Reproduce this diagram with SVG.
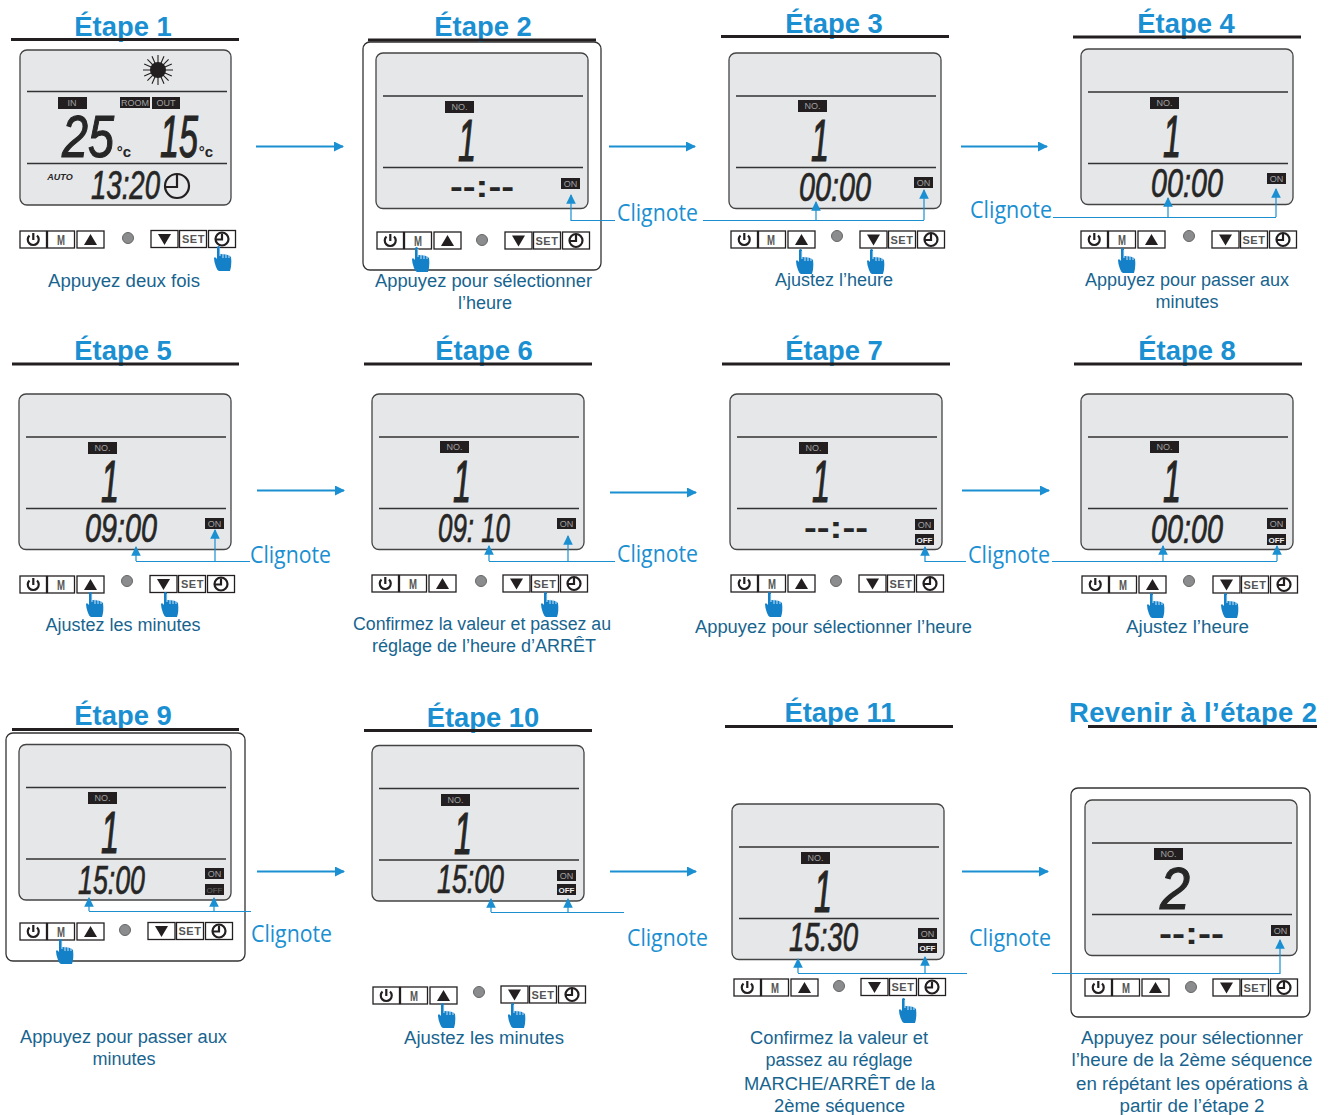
<svg xmlns="http://www.w3.org/2000/svg" width="1329" height="1115" viewBox="0 0 1329 1115">
<style>
.title{font:bold 27.400px "Liberation Sans",Arial,sans-serif;fill:#1a8fd1;text-anchor:middle}
.rule{stroke:#231f20;stroke-width:3}
.cap{font:18px "Liberation Sans",Arial,sans-serif;fill:#17648f;text-anchor:middle}
.cl{font:23px "Open Sans","Liberation Sans",sans-serif;fill:#1a8fd1}
.frame{fill:#fff;stroke:#333;stroke-width:1.3}
.lcd{fill:#e6e7e8;stroke:#444;stroke-width:1.3}
.ln{stroke:#333;stroke-width:1.5}
.tag{fill:#231f20}
.tt{font:9px "Liberation Sans",sans-serif;fill:#a0a0a0;text-anchor:middle}
.to{font:bold 8px "Liberation Sans",sans-serif;fill:#eee;text-anchor:middle}
.dg{font:italic 40px "Liberation Sans",sans-serif;fill:#262626;stroke:#262626;stroke-width:.7}
.db{font:italic 60px "Liberation Sans",sans-serif;fill:#262626;stroke:#262626;stroke-width:1.2}
.ds{font:bold 32px "Liberation Sans",sans-serif;fill:#262626;text-anchor:middle}
.bx{fill:#fff;stroke:#231f20;stroke-width:1.3}
.led{fill:#8a8c8e;stroke:#666;stroke-width:1}
.ic{fill:none;stroke:#231f20;stroke-width:2.2}
.m{font:bold 14px "Liberation Sans",sans-serif;fill:#555;text-anchor:middle}
.set{font:bold 11px "Liberation Sans",sans-serif;fill:#555;text-anchor:middle;letter-spacing:.6px}
.fl{fill:none;stroke:#1a8fd1;stroke-width:2}
.cn{fill:none;stroke:#1a8fd1;stroke-width:1.2}
.u{font:bold 15px "Liberation Sans",sans-serif;fill:#262626;text-anchor:middle}
</style>
<defs>
<marker id="a" viewBox="0 0 10 10" refX="9" refY="5" markerWidth="5" markerHeight="5" orient="auto"><path d="M0 0L10 5L0 10z" fill="#1a8fd1"/></marker>
<marker id="u" viewBox="0 0 10 10" refX="9" refY="5" markerWidth="8" markerHeight="8" orient="auto"><path d="M0 0L10 5L0 10z" fill="#1a8fd1"/></marker>
<g id="lcd"><rect class="lcd" width="212" height="155.500" rx="7"/><path class="ln" d="M7 43H207M7 114.500H207" fill="none"/></g>
<g id="btnL"><rect class="bx" width="26.500" height="17"/><rect class="bx" x="27.500" width="27" height="17"/><rect class="bx" x="57" width="27" height="17"/>
<path class="ic" d="M9.500 4.500A5.500 5.500 0 1 0 17 4.500M13.300 2V9"/><path d="M70.500 3L77 14H64z" fill="#231f20"/></g>
<g id="btnR"><rect class="bx" width="27" height="17"/><rect class="bx" x="28.500" width="27" height="17"/><rect class="bx" x="57.500" width="27" height="17"/>
<path d="M13.500 14.500L7 3.500H20z" fill="#231f20"/><circle class="ic" cx="71" cy="8.500" r="6.500"/><path class="ic" d="M71 3V9H65"/></g>
<g id="hand"><path d="M3 22Q1 17 1 13Q2 11 4 14V2Q5.500 0 7 2V9Q16 9 18 12Q19 20 17 26H6Q4 25 3 22z" fill="#1480c8"/><path d="M7 3V11M10 8V13M13 8.500V13M16 10V13" stroke="#dff0fb" stroke-width=".9" fill="none"/></g>
<g id="sun"><circle r="8" fill="#231f20"/><path d="M0-15V15M-15 0H15M-10.600-10.600L10.600 10.600M-10.600 10.600L10.600-10.600M-6-13.800L6 13.800M6-13.800L-6 13.800M-13.800-6L13.800 6M-13.800 6L13.800-6" stroke="#231f20" stroke-width="1.100"/></g>
</defs>

<g id="connectors">
<path class="fl" marker-end="url(#a)" d="M256 146.500H343"/><path class="fl" marker-end="url(#a)" d="M609 146.500H695"/><path class="fl" marker-end="url(#a)" d="M961 146.500H1047"/>
<path class="fl" marker-end="url(#a)" d="M257 490.500H344"/><path class="fl" marker-end="url(#a)" d="M610 492.500H696"/><path class="fl" marker-end="url(#a)" d="M962 490.500H1049"/>
<path class="fl" marker-end="url(#a)" d="M257 871.500H344"/><path class="fl" marker-end="url(#a)" d="M610 871.500H696"/><path class="fl" marker-end="url(#a)" d="M962 871.500H1048"/>
</g>

<g id="etape1">
<text class="title" x="123" y="36">Étape 1</text><path class="rule" d="M11 39.500H239"/>
<rect class="lcd" x="20" y="50" width="211" height="155" rx="7"/><path class="ln" d="M27 91.500H227M27 163.500H227"/>
<use href="#sun" x="158" y="70"/>
<rect class="tag" x="58" y="97" width="29" height="12"/><text class="tt" x="72" y="106">IN</text>
<rect class="tag" x="120" y="97" width="30" height="11"/><text class="tt" x="135" y="106">ROOM</text>
<rect class="tag" x="152" y="97" width="28" height="12"/><text class="tt" x="166" y="106">OUT</text>
<text class="db" x="62" y="157" textLength="52" lengthAdjust="spacingAndGlyphs">25</text>
<text class="db" x="160" y="157" textLength="38" lengthAdjust="spacingAndGlyphs">15</text>
<text class="u" x="124" y="157">°c</text>
<text class="u" x="206" y="157">°c</text>
<text x="60" y="180" style="font:bold italic 9px 'Liberation Sans',sans-serif;fill:#262626;text-anchor:middle">AUTO</text>
<text class="dg" x="91" y="199" textLength="69" lengthAdjust="spacingAndGlyphs">13:20</text>
<circle class="ic" cx="177" cy="186" r="12"/><path class="ic" d="M177 175V187H166"/>
<use href="#btnL" x="20" y="231"/><circle class="led" cx="128" cy="238" r="5.500"/><use href="#btnR" x="151" y="230.500"/>
<text class="m" x="61" y="245" textLength="8" lengthAdjust="spacingAndGlyphs">M</text><text class="set" x="193.500" y="243">SET</text>
<use href="#hand" x="213" y="245"/>
<text class="cap" x="124" y="287" textLength="152" lengthAdjust="spacingAndGlyphs">Appuyez deux fois</text>
</g>

<g id="etape2">
<rect class="frame" x="363" y="42" width="238" height="228" rx="7"/>
<text class="title" x="483" y="36">Étape 2</text><path class="rule" d="M368 40H596"/>
<use href="#lcd" x="376" y="53"/>
<rect class="tag" x="445" y="101" width="29" height="12"/><text class="tt" x="459.500" y="110">NO.</text>
<text class="db" x="458" y="161" textLength="18" lengthAdjust="spacingAndGlyphs">1</text>
<text class="ds" x="482" y="197" textLength="64" lengthAdjust="spacingAndGlyphs">--:--</text>
<rect class="tag" x="561" y="178" width="19" height="11"/><text class="tt" x="570.500" y="187">ON</text>
<use href="#btnL" x="377" y="232"/><circle class="led" cx="482" cy="240" r="5.500"/><use href="#btnR" x="505" y="232"/>
<text class="m" x="418" y="246" textLength="8" lengthAdjust="spacingAndGlyphs">M</text><text class="set" x="547" y="245">SET</text>
<use href="#hand" x="411" y="246"/>
<path class="cn" marker-end="url(#u)" d="M615 220.500H571V195"/>
<text class="cl" x="617" y="221" textLength="81" lengthAdjust="spacingAndGlyphs">Clignote</text>
<text class="cap" x="483.500" y="287" textLength="217" lengthAdjust="spacingAndGlyphs">Appuyez pour sélectionner</text><text class="cap" x="485" y="309">l’heure</text>
</g>

<g id="etape3">
<text class="title" x="834" y="33">Étape 3</text><path class="rule" d="M721 36.500H949"/>
<use href="#lcd" x="729" y="53"/>
<rect class="tag" x="798" y="100" width="29" height="12"/><text class="tt" x="812.500" y="109">NO.</text>
<text class="db" x="811" y="161" textLength="18" lengthAdjust="spacingAndGlyphs">1</text>
<text class="dg" x="799" y="201" textLength="72" lengthAdjust="spacingAndGlyphs">00:00</text>
<rect class="tag" x="914" y="177" width="19" height="11"/><text class="tt" x="923.500" y="186">ON</text>
<use href="#btnL" x="731" y="231"/><circle class="led" cx="837" cy="236" r="5.500"/><use href="#btnR" x="860" y="231"/>
<text class="m" x="771" y="245" textLength="8" lengthAdjust="spacingAndGlyphs">M</text><text class="set" x="902" y="244">SET</text>
<use href="#hand" x="795" y="248"/><use href="#hand" x="866" y="248"/>
<path class="cn" d="M703 220.500H924"/><path class="cn" marker-end="url(#u)" d="M816 220V202"/><path class="cn" marker-end="url(#u)" d="M924 220V190"/>
<text class="cap" x="834" y="286">Ajustez l’heure</text>
</g>

<g id="etape4">
<text class="title" x="1186" y="33">Étape 4</text><path class="rule" d="M1073 37H1301"/>
<use href="#lcd" x="1081" y="49"/>
<rect class="tag" x="1150" y="97" width="29" height="12"/><text class="tt" x="1164.500" y="106">NO.</text>
<text class="db" x="1163" y="157" textLength="18" lengthAdjust="spacingAndGlyphs">1</text>
<text class="dg" x="1151" y="197" textLength="72" lengthAdjust="spacingAndGlyphs">00:00</text>
<rect class="tag" x="1267" y="173" width="19" height="11"/><text class="tt" x="1276.500" y="182">ON</text>
<use href="#btnL" x="1081" y="231"/><circle class="led" cx="1189" cy="236" r="5.500"/><use href="#btnR" x="1212" y="231"/>
<text class="m" x="1122" y="245" textLength="8" lengthAdjust="spacingAndGlyphs">M</text><text class="set" x="1254" y="244">SET</text>
<use href="#hand" x="1117" y="247"/>
<text class="cl" x="970" y="218" textLength="82" lengthAdjust="spacingAndGlyphs">Clignote</text>
<path class="cn" d="M1053 217.500H1276"/><path class="cn" marker-end="url(#u)" d="M1168 217V198"/><path class="cn" marker-end="url(#u)" d="M1276 217V189"/>
<text class="cap" x="1187" y="286">Appuyez pour passer aux</text><text class="cap" x="1187" y="308">minutes</text>
</g>

<g id="etape5">
<text class="title" x="123" y="360">Étape 5</text><path class="rule" d="M12 364H239"/>
<use href="#lcd" x="19" y="394"/>
<rect class="tag" x="88" y="442" width="29" height="12"/><text class="tt" x="102.500" y="451">NO.</text>
<text class="db" x="101" y="502" textLength="18" lengthAdjust="spacingAndGlyphs">1</text>
<text class="dg" x="85" y="542" textLength="72" lengthAdjust="spacingAndGlyphs">09:00</text>
<rect class="tag" x="205" y="518" width="19" height="11"/><text class="tt" x="214.500" y="527">ON</text>
<use href="#btnL" x="20" y="576"/><circle class="led" cx="127" cy="581" r="5.500"/><use href="#btnR" x="150" y="575.500"/>
<text class="m" x="61" y="590" textLength="8" lengthAdjust="spacingAndGlyphs">M</text><text class="set" x="192.500" y="588">SET</text>
<use href="#hand" x="85" y="591"/><use href="#hand" x="160" y="591"/>
<path class="cn" d="M136 561.500H250"/><path class="cn" marker-end="url(#u)" d="M136 561V547"/><path class="cn" marker-end="url(#u)" d="M215 561V530"/>
<text class="cl" x="250" y="563" textLength="81" lengthAdjust="spacingAndGlyphs">Clignote</text>
<text class="cap" x="123" y="631">Ajustez les minutes</text>
</g>

<g id="etape6">
<text class="title" x="484" y="360">Étape 6</text><path class="rule" d="M364 364H592"/>
<use href="#lcd" x="372" y="394"/>
<rect class="tag" x="440" y="441" width="29" height="12"/><text class="tt" x="454.500" y="450">NO.</text>
<text class="db" x="453" y="502" textLength="18" lengthAdjust="spacingAndGlyphs">1</text>
<text class="dg" x="438" y="542" textLength="72" lengthAdjust="spacingAndGlyphs">09: 10</text>
<rect class="tag" x="557" y="518" width="19" height="11"/><text class="tt" x="566.500" y="527">ON</text>
<use href="#btnL" x="372" y="575"/><circle class="led" cx="481" cy="581" r="5.500"/><use href="#btnR" x="503" y="575"/>
<text class="m" x="413" y="589" textLength="8" lengthAdjust="spacingAndGlyphs">M</text><text class="set" x="545" y="588">SET</text>
<use href="#hand" x="540" y="591"/>
<path class="cn" d="M489 561.500H615"/><path class="cn" marker-end="url(#u)" d="M489 561V546"/><path class="cn" marker-end="url(#u)" d="M568 561V536"/>
<text class="cl" x="617" y="562" textLength="81" lengthAdjust="spacingAndGlyphs">Clignote</text>
<text class="cap" x="482" y="630" textLength="258" lengthAdjust="spacingAndGlyphs">Confirmez la valeur et passez au</text><text class="cap" x="484" y="652">réglage de l’heure d’ARRÊT</text>
</g>

<g id="etape7">
<text class="title" x="834" y="360">Étape 7</text><path class="rule" d="M722 364H950"/>
<use href="#lcd" x="730" y="394"/>
<rect class="tag" x="799" y="442" width="29" height="12"/><text class="tt" x="813.500" y="451">NO.</text>
<text class="db" x="812" y="502" textLength="18" lengthAdjust="spacingAndGlyphs">1</text>
<text class="ds" x="836" y="538" textLength="64" lengthAdjust="spacingAndGlyphs">--:--</text>
<rect class="tag" x="915" y="519" width="19" height="11"/><text class="tt" x="924.500" y="528">ON</text>
<rect class="tag" x="915" y="534" width="19" height="11"/><text class="to" x="924.500" y="542.500">OFF</text>
<use href="#btnL" x="731" y="575"/><circle class="led" cx="836" cy="581" r="5.500"/><use href="#btnR" x="859" y="575"/>
<text class="m" x="772" y="589" textLength="8" lengthAdjust="spacingAndGlyphs">M</text><text class="set" x="901" y="588">SET</text>
<use href="#hand" x="764" y="591"/>
<path class="cn" marker-end="url(#u)" d="M966 561.500H925V547"/>
<text class="cl" x="968" y="563" textLength="82" lengthAdjust="spacingAndGlyphs">Clignote</text>
<text class="cap" x="833.500" y="633" textLength="277" lengthAdjust="spacingAndGlyphs">Appuyez pour sélectionner l’heure</text>
</g>

<g id="etape8">
<text class="title" x="1187" y="360">Étape 8</text><path class="rule" d="M1074 364H1302"/>
<use href="#lcd" x="1081" y="394"/>
<rect class="tag" x="1150" y="441" width="29" height="12"/><text class="tt" x="1164.500" y="450">NO.</text>
<text class="db" x="1163" y="502" textLength="18" lengthAdjust="spacingAndGlyphs">1</text>
<text class="dg" x="1151" y="543" textLength="72" lengthAdjust="spacingAndGlyphs">00:00</text>
<rect class="tag" x="1267" y="518" width="19" height="11"/><text class="tt" x="1276.500" y="527">ON</text>
<rect class="tag" x="1267" y="534" width="19" height="11"/><text class="to" x="1276.500" y="542.500">OFF</text>
<use href="#btnL" x="1082" y="576"/><circle class="led" cx="1189" cy="581" r="5.500"/><use href="#btnR" x="1213" y="576"/>
<text class="m" x="1123" y="590" textLength="8" lengthAdjust="spacingAndGlyphs">M</text><text class="set" x="1255" y="589">SET</text>
<use href="#hand" x="1146" y="592"/><use href="#hand" x="1220" y="592"/>
<path class="cn" d="M1052 561.500H1277"/><path class="cn" marker-end="url(#u)" d="M1163 561V546"/><path class="cn" marker-end="url(#u)" d="M1277 561V546"/>
<text class="cap" x="1187.500" y="633" textLength="123" lengthAdjust="spacingAndGlyphs">Ajustez l’heure</text>
</g>

<g id="etape9">
<rect class="frame" x="6" y="733" width="239" height="228" rx="7"/>
<text class="title" x="123" y="725">Étape 9</text><path class="rule" d="M12 729.500H239"/>
<use href="#lcd" x="19" y="744.500"/>
<rect class="tag" x="88" y="792" width="29" height="12"/><text class="tt" x="102.500" y="801">NO.</text>
<text class="db" x="101" y="853" textLength="18" lengthAdjust="spacingAndGlyphs">1</text>
<text class="dg" x="78" y="894" textLength="67" lengthAdjust="spacingAndGlyphs">15:00</text>
<rect class="tag" x="205" y="868" width="19" height="11"/><text class="tt" x="214.500" y="877">ON</text>
<rect class="tag" x="205" y="884" width="19" height="11"/><text class="tt" x="214.500" y="892.500" style="font-size:8px;fill:#666">OFF</text>
<use href="#btnL" x="20" y="923"/><circle class="led" cx="125" cy="930" r="5.500"/><use href="#btnR" x="148" y="922.500"/>
<text class="m" x="61" y="937" textLength="8" lengthAdjust="spacingAndGlyphs">M</text><text class="set" x="190" y="935">SET</text>
<use href="#hand" x="55" y="938"/>
<path class="cn" d="M89 911.500H251"/><path class="cn" marker-end="url(#u)" d="M89 911V898"/><path class="cn" marker-end="url(#u)" d="M214 911V898"/>
<text class="cl" x="251" y="942" textLength="81" lengthAdjust="spacingAndGlyphs">Clignote</text>
<text class="cap" x="123.500" y="1043" textLength="207" lengthAdjust="spacingAndGlyphs">Appuyez pour passer aux</text><text class="cap" x="124" y="1065">minutes</text>
</g>

<g id="etape10">
<text class="title" x="483" y="727">Étape 10</text><path class="rule" d="M364 730.500H592"/>
<use href="#lcd" x="372" y="745.500"/>
<rect class="tag" x="441" y="794" width="29" height="12"/><text class="tt" x="455.500" y="803">NO.</text>
<text class="db" x="454" y="854" textLength="18" lengthAdjust="spacingAndGlyphs">1</text>
<text class="dg" x="437" y="893" textLength="67" lengthAdjust="spacingAndGlyphs">15:00</text>
<rect class="tag" x="557" y="870" width="19" height="11"/><text class="tt" x="566.500" y="879">ON</text>
<rect class="tag" x="557" y="884" width="19" height="11"/><text class="to" x="566.500" y="892.500">OFF</text>
<use href="#btnL" x="373" y="987"/><circle class="led" cx="479" cy="992" r="5.500"/><use href="#btnR" x="501" y="986"/>
<text class="m" x="414" y="1001" textLength="8" lengthAdjust="spacingAndGlyphs">M</text><text class="set" x="543" y="999">SET</text>
<use href="#hand" x="437" y="1002"/><use href="#hand" x="507" y="1002"/>
<path class="cn" d="M491 912.500H624"/><path class="cn" marker-end="url(#u)" d="M491 912V899"/><path class="cn" marker-end="url(#u)" d="M568 912V899"/>
<text class="cl" x="627" y="946" textLength="81" lengthAdjust="spacingAndGlyphs">Clignote</text>
<text class="cap" x="484" y="1044" textLength="160" lengthAdjust="spacingAndGlyphs">Ajustez les minutes</text>
</g>

<g id="etape11">
<text class="title" x="840" y="722">Étape 11</text><path class="rule" d="M725 726.500H953"/>
<use href="#lcd" x="732" y="804"/>
<rect class="tag" x="801" y="852" width="29" height="12"/><text class="tt" x="815.500" y="861">NO.</text>
<text class="db" x="814" y="912" textLength="18" lengthAdjust="spacingAndGlyphs">1</text>
<text class="dg" x="789" y="951" textLength="69" lengthAdjust="spacingAndGlyphs">15:30</text>
<rect class="tag" x="918" y="928" width="19" height="11"/><text class="tt" x="927.500" y="937">ON</text>
<rect class="tag" x="918" y="943" width="19" height="10"/><text class="to" x="927.500" y="951">OFF</text>
<use href="#btnL" x="734" y="979"/><circle class="led" cx="839" cy="986" r="5.500"/><use href="#btnR" x="861" y="978.500"/>
<text class="m" x="775" y="993" textLength="8" lengthAdjust="spacingAndGlyphs">M</text><text class="set" x="903" y="991">SET</text>
<use href="#hand" x="898" y="997"/>
<path class="cn" d="M798 973.500H967"/><path class="cn" marker-end="url(#u)" d="M798 973V959"/><path class="cn" marker-end="url(#u)" d="M925 973V957"/>
<text class="cl" x="969" y="946" textLength="82" lengthAdjust="spacingAndGlyphs">Clignote</text>
<text class="cap" x="839" y="1044" textLength="178" lengthAdjust="spacingAndGlyphs">Confirmez la valeur et</text><text class="cap" x="839" y="1066">passez au réglage</text><text class="cap" x="839.500" y="1090" textLength="191" lengthAdjust="spacingAndGlyphs">MARCHE/ARRÊT de la</text><text class="cap" x="839.500" y="1112" textLength="131" lengthAdjust="spacingAndGlyphs">2ème séquence</text>
</g>

<g id="etape2-retour">
<text class="title" x="1193" y="722" textLength="248" lengthAdjust="spacing">Revenir à l’étape 2</text><path class="rule" d="M1088 726.500H1317"/>
<rect class="frame" x="1071" y="788" width="239" height="229" rx="7"/>
<use href="#lcd" x="1085" y="800"/>
<rect class="tag" x="1154" y="848" width="29" height="12"/><text class="tt" x="1168.500" y="857">NO.</text>
<text class="db" x="1160" y="909" textLength="30" lengthAdjust="spacingAndGlyphs">2</text>
<text class="ds" x="1191.500" y="944" textLength="65" lengthAdjust="spacingAndGlyphs">--:--</text>
<rect class="tag" x="1271" y="925" width="19" height="11"/><text class="tt" x="1280.500" y="934">ON</text>
<use href="#btnL" x="1085" y="979"/><circle class="led" cx="1191" cy="987" r="5.500"/><use href="#btnR" x="1213" y="979"/>
<text class="m" x="1126" y="993" textLength="8" lengthAdjust="spacingAndGlyphs">M</text><text class="set" x="1255" y="992">SET</text>
<path class="cn" marker-end="url(#u)" d="M1052 973.500H1280V940"/>
<text class="cap" x="1192" y="1044" textLength="222" lengthAdjust="spacingAndGlyphs">Appuyez pour sélectionner</text><text class="cap" x="1192" y="1066" textLength="241" lengthAdjust="spacingAndGlyphs">l’heure de la 2ème séquence</text><text class="cap" x="1192" y="1090" textLength="232" lengthAdjust="spacingAndGlyphs">en répétant les opérations à</text><text class="cap" x="1192" y="1112" textLength="145" lengthAdjust="spacingAndGlyphs">partir de l’étape 2</text>
</g>
</svg>
